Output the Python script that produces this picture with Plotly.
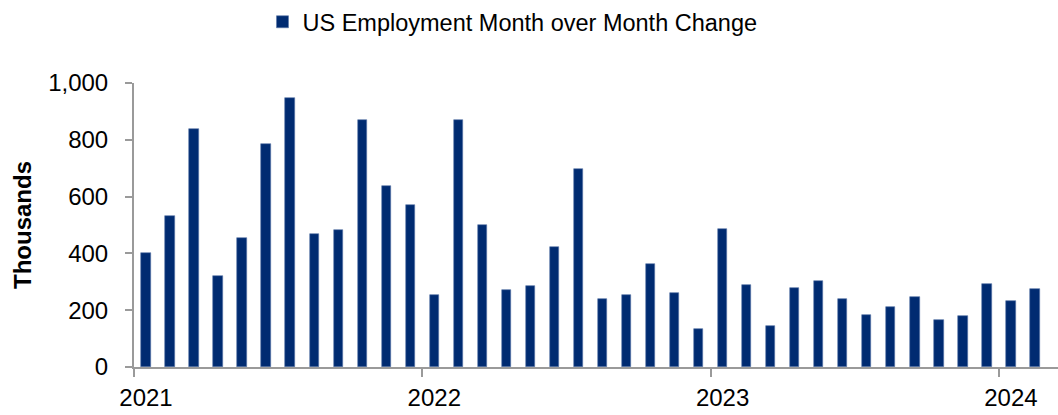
import plotly.graph_objects as go

months = [f"{y}-{m:02d}" for y in (2021, 2022, 2023) for m in range(1, 13)] + ["2024-01", "2024-02"]
values = [400, 530, 839, 320, 454, 785, 946, 468, 483, 868, 636, 572,
          252, 868, 499, 272, 286, 422, 696, 241, 254, 361, 259, 135,
          486, 288, 145, 279, 304, 240, 184, 211, 247, 165, 181, 291,
          231, 276]
year_labels = ["2021", "2022", "2023", "2024"]
y_ticks = [0, 200, 400, 600, 800, 1000]
y_tick_text = ["0", "200", "400", "600", "800", "1,000"]

idx = list(range(len(months)))
year_idx = [months.index(f"{y}-01") for y in year_labels]

BAR = "#002B71"
AXIS = "#9A9A9A"
FONT = "Liberation Sans, Arial, sans-serif"

fig = go.Figure()
fig.add_trace(go.Bar(
    x=idx, y=values, width=0.39,
    marker=dict(color=BAR, line=dict(color="#5A77A8", width=0.6)),
    name="US Employment Month over Month Change",
    showlegend=True,
))
# invisible overlay trace to carry the year labels axis
fig.add_trace(go.Scatter(x=[idx[0], idx[-1]], y=[None, None], xaxis="x2",
                         showlegend=False, hoverinfo="skip"))

xr = [-0.5, len(months) - 0.04]
fig.update_layout(
    template="none",
    width=1058, height=415,
    margin=dict(l=134, r=0, t=83, b=48, pad=0),
    paper_bgcolor="white", plot_bgcolor="white",
    font=dict(family=FONT, size=24, color="black"),
    bargap=0,
    showlegend=True,
    legend=dict(orientation="h", x=0.4844, xref="container", xanchor="center",
                y=1, yref="container", yanchor="top",
                font=dict(size=23.5), itemwidth=30, bgcolor="rgba(0,0,0,0)"),
    xaxis=dict(range=xr, tickmode="array", automargin=False,
               tickvals=[i - 0.5 for i in year_idx], ticktext=["" for _ in year_idx],
               ticks="outside", ticklen=8, tickwidth=2, tickcolor=AXIS,
               showline=True, linecolor=AXIS, linewidth=2,
               showgrid=False, zeroline=False),
    xaxis2=dict(range=xr, overlaying="x", side="bottom", anchor="y", automargin=False,
                tickmode="array", tickvals=year_idx, ticktext=year_labels,
                ticks="", showline=False, showgrid=False, zeroline=False,
                ticklabelstandoff=14, tickfont=dict(size=24)),
    yaxis=dict(range=[0, 1000], tickmode="array", tickvals=y_ticks, ticktext=y_tick_text,
               automargin=False,
               ticks="outside", ticklen=7, tickwidth=2, tickcolor=AXIS,
               showline=True, linecolor=AXIS, linewidth=2,
               showgrid=False, zeroline=False, ticklabelstandoff=12,
               title=dict(text="<b>Thousands</b>", font=dict(size=24), standoff=10)),
)

fig.write_html("out.html")
